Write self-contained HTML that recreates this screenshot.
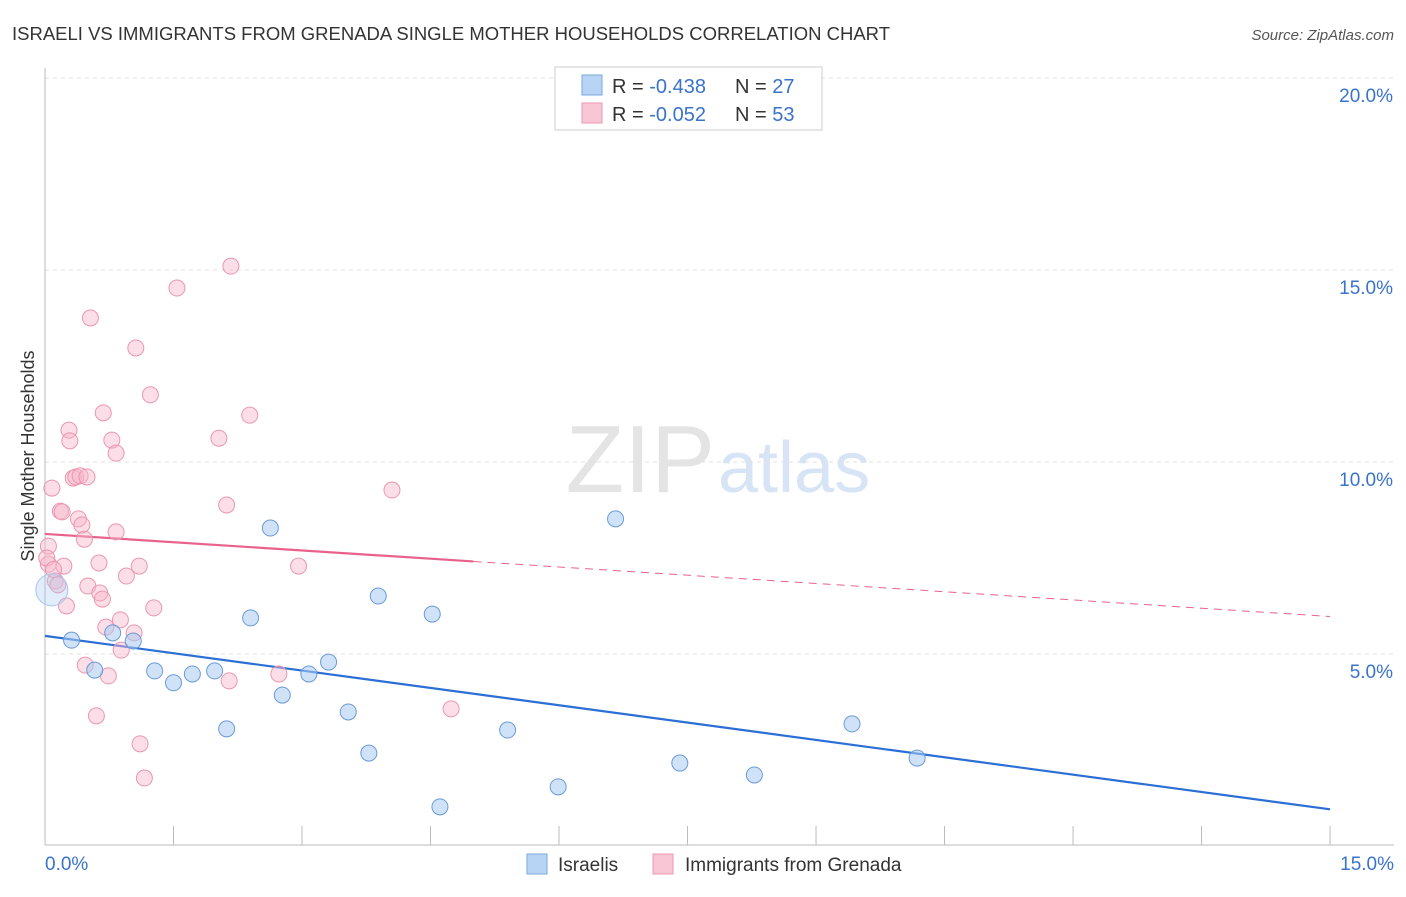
<!DOCTYPE html>
<html><head><meta charset="utf-8"><style>
body{margin:0;background:#fff;font-family:"Liberation Sans",sans-serif}
svg text{font-family:"Liberation Sans",sans-serif}
</style></head><body>
<svg id="c" width="1406" height="892">
<text x="12" y="40" font-size="18" fill="#333" textLength="878" lengthAdjust="spacingAndGlyphs">ISRAELI VS IMMIGRANTS FROM GRENADA SINGLE MOTHER HOUSEHOLDS CORRELATION CHART</text>
<text x="1394" y="40" font-size="15" fill="#555" font-style="italic" text-anchor="end">Source: ZipAtlas.com</text>
<text x="34" y="456" font-size="18" fill="#333" text-anchor="middle" transform="rotate(-90 34 456)">Single Mother Households</text>
<text x="715" y="492" font-size="96" fill="#e4e4e4" text-anchor="end" font-family="Liberation Serif">ZIP</text>
<text x="718" y="492" font-size="72" fill="#d6e4f5">atlas</text>
<g id="grid"></g><g id="trend"></g><g id="pts"></g>
<g>
<rect x="555" y="67" width="267" height="63" fill="#fff" stroke="#ccc"/>
<rect x="582" y="75" width="20" height="20" fill="#b8d4f5" stroke="#7aa8e0"/>
<rect x="582" y="103" width="20" height="20" fill="#f9c6d5" stroke="#eb97b0"/>
<text x="612" y="93" font-size="20" fill="#333">R = <tspan fill="#3a73cc">-0.438</tspan></text>
<text x="735" y="93" font-size="20" fill="#333">N = <tspan fill="#3a73cc">27</tspan></text>
<text x="612" y="121" font-size="20" fill="#333">R = <tspan fill="#3a73cc">-0.052</tspan></text>
<text x="735" y="121" font-size="20" fill="#333">N = <tspan fill="#3a73cc">53</tspan></text>
</g>
<g>
<rect x="527" y="854" width="20" height="20" fill="#b8d4f5" stroke="#7aa8e0"/>
<text x="558" y="871" font-size="19" fill="#333">Israelis</text>
<rect x="653" y="854" width="20" height="20" fill="#f9c6d5" stroke="#eb97b0"/>
<text x="685" y="871" font-size="19" fill="#333">Immigrants from Grenada</text>
</g>
</svg>
<script>
const yTicks=[5,10,15,20];
const xTickLabels=["0.0%","15.0%"];
const israeliX=[0.31,0.58,0.79,1.03,1.28,1.50,1.72,1.98,2.12,2.40,2.63,2.77,3.08,3.31,3.54,3.78,3.89,4.52,4.61,5.40,5.99,6.66,7.41,8.28,9.42,10.18,0.08];
const israeliY=[5.36,4.58,5.55,5.34,4.56,4.25,4.48,4.56,3.05,5.94,8.28,3.93,4.48,4.79,3.49,2.42,6.51,6.04,1.02,3.02,1.54,8.52,2.16,1.85,3.18,2.29,6.67];
const grenadaX=[0.08,0.04,0.04,0.12,0.18,0.20,0.22,0.25,0.28,0.29,0.33,0.36,0.39,0.41,0.43,0.46,0.47,0.49,0.50,0.53,0.60,0.63,0.64,0.67,0.68,0.71,0.74,0.78,0.83,0.83,0.88,0.89,0.95,1.04,1.06,1.10,1.11,1.16,1.23,1.27,1.54,2.03,2.12,2.15,2.17,2.39,2.73,2.96,4.05,4.74,0.02,0.10,0.15];
const grenadaY=[9.32,7.81,7.34,6.90,8.72,8.70,7.29,6.25,10.83,10.55,9.58,9.61,8.52,9.64,8.36,7.99,4.71,9.61,6.77,13.75,3.39,7.37,6.59,6.43,11.28,5.70,4.43,10.57,10.23,8.18,5.89,5.10,7.03,5.55,12.97,7.29,2.66,1.77,11.75,6.20,14.53,10.62,8.88,4.30,15.10,11.22,4.48,7.29,9.27,3.57,7.50,7.20,6.80];
const X=v=>45+v*85.67, Y=v=>846-v*38.4;
const NS="http://www.w3.org/2000/svg";
function mk(p,t,a){const e=document.createElementNS(NS,t);for(const k in a)e.setAttribute(k,a[k]);p.appendChild(e);return e;}
const g=document.getElementById('grid');
yTicks.forEach(t=>{const l=mk(g,'line',{x1:45,x2:1394,y1:Y(t),y2:Y(t),stroke:'#e2e2e2','stroke-dasharray':'4,4'});

const tx=mk(g,'text',{x:1393,y:Y(t)+24,'font-size':19,fill:'#3a73cc','text-anchor':'end'});tx.textContent=t.toFixed(1)+'%';
});
mk(g,'line',{x1:45,x2:45,y1:68,y2:845,stroke:'#bbb'});
mk(g,'line',{x1:45,x2:1394,y1:845,y2:845,stroke:'#bbb'});
for(let i=0;i<=10;i++){const t=mk(g,'line',{x1:X(i*1.5),x2:X(i*1.5),y1:826,y2:845,stroke:'#bbb'});}
const xl0=mk(g,'text',{x:45,y:870,'font-size':19,fill:'#3a73cc'});xl0.textContent=xTickLabels[0];

const xl1=mk(g,'text',{x:1394,y:870,'font-size':19,fill:'#3a73cc','text-anchor':'end'});xl1.textContent=xTickLabels[1];

function fit(xs,ys){const n=xs.length,mx=xs.reduce((a,b)=>a+b)/n,my=ys.reduce((a,b)=>a+b)/n;let sxy=0,sxx=0;for(let i=0;i<n;i++){sxy+=(xs[i]-mx)*(ys[i]-my);sxx+=(xs[i]-mx)**2;}const b=sxy/sxx;return [my-b*mx,b];}
const tr=document.getElementById('trend');
const [ia,ib]=fit(israeliX,israeliY);
const bl=mk(tr,'line',{x1:X(0),y1:Y(ia),x2:X(15),y2:Y(ia+ib*15),stroke:'#2b6fd6','stroke-width':2.2});

const [ga,gb]=fit(grenadaX,grenadaY);
const pl=mk(tr,'line',{x1:X(0),y1:Y(ga),x2:X(5),y2:Y(ga+gb*5),stroke:'#e8628c','stroke-width':2.2});

const pd=mk(tr,'line',{x1:X(5),y1:Y(ga+gb*5),x2:X(15),y2:Y(ga+gb*15),stroke:'#e8628c','stroke-width':1,'stroke-dasharray':'8,6'});

const pg=document.getElementById('pts');
grenadaX.forEach((x,i)=>{const c=mk(pg,'circle',{cx:X(x),cy:Y(grenadaY[i]),r:8,fill:'rgba(247,182,202,0.45)',stroke:'#eb97b0','stroke-width':1});
});
israeliX.forEach((x,i)=>{const big=i==israeliX.length-1;const c=mk(pg,'circle',{cx:X(x),cy:Y(israeliY[i]),r:big?16:8,fill:big?'rgba(170,202,242,0.35)':'rgba(170,202,242,0.55)',stroke:big?'#a9c4ea':'#6a9ad8','stroke-width':1});
});
</script>
</body></html>
